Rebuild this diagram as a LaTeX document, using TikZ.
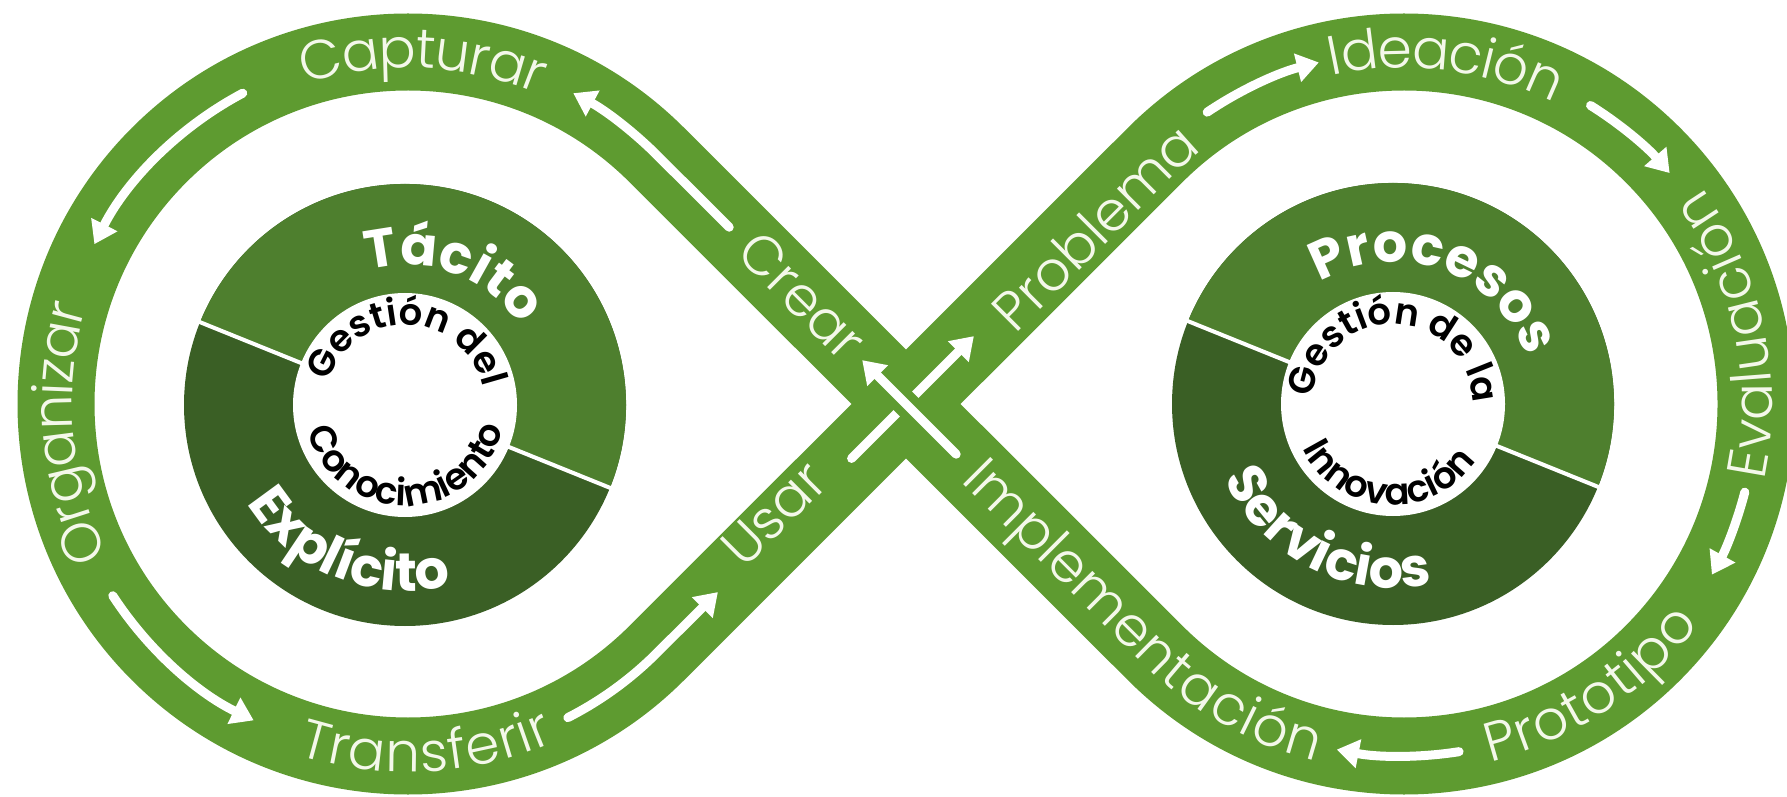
\documentclass[tikz,border=0pt]{standalone}
\usepackage{fontspec}
\setmainfont{Poppins}
\newfontfamily\poplight{Poppins Light}
\newfontfamily\popsemi{Poppins SemiBold}
\usetikzlibrary{decorations.text,arrows.meta,calc}
\definecolor{band}{HTML}{5E9B30}
\definecolor{ringup}{HTML}{4E7F2E}
\definecolor{ringlo}{HTML}{3A5F25}
\definecolor{lbl}{HTML}{F4F8EA}
\newcommand\bandlbl{\poplight\fontsize{55}{60}\selectfont\color{lbl}}
\newcommand\ringlbl{\bfseries\fontsize{54}{60}\selectfont\color{white}}
\newcommand\corelbl{\popsemi\fontsize{37}{42}\selectfont\color{black}}
\tikzset{
  bandline/.style={draw=band, line width=77pt, line join=round},
  flow/.style={draw=white, line width=9pt, line cap=round, -{Triangle[width=28pt,length=22pt]}},
  halo/.style={draw=band, line width=26pt},
  divider/.style={draw=white, line width=4pt},
  lab/.style n args={2}{decorate, decoration={text along path, text={#1}, text align=center, raise=#2}},
}
\begin{document}
\begin{tikzpicture}[x=1pt,y=1pt]
\useasboundingbox (0,0) rectangle (1787,796);
\fill[white] (0,0) rectangle (1787,796);
\clip (0,0) rectangle (1787,796);
\coordinate (C) at (906,392);
\coordinate (Lc) at (408,392);
\coordinate (Rc) at (1404,392);
\coordinate (LC) at (405,391);
\coordinate (RC) at (1393,392);

% infinity band
\draw[bandline] (C) -- ($(Lc)+(45:352)$) arc[start angle=45, end angle=315, radius=352]
  -- ($(Rc)+(135:352)$) arc[start angle=135, end angle=-135, radius=352] -- cycle;

% flow arrows
\draw[flow] ($(C)+(135:250)$) -- ($(Lc)+(45:352)$) arc[start angle=45, end angle=62, radius=352];
\draw[flow] ($(Lc)+(118:352)$) arc[start angle=118, end angle=153, radius=352];
\draw[flow] ($(Lc)+(213:352)$) arc[start angle=213, end angle=244, radius=352];
\draw[flow] ($(Lc)+(297:352)$) arc[start angle=297, end angle=315, radius=352] -- ($(C)+(225:266)$);
\draw[flow] ($(C)+(225:77)$) -- ($(C)+(45:96)$);
\draw[halo] ($(C)+(-45:71)$) -- ($(C)+(135:62)$);
\draw[flow] ($(C)+(-45:71)$) -- ($(C)+(135:62)$);
\draw[flow] ($(Rc)+(124:352)$) arc[start angle=124, end angle=104, radius=352];
\draw[flow] ($(Rc)+(58:352)$) arc[start angle=58, end angle=41, radius=352];
\draw[flow] ($(Rc)+(-14.5:352)$) arc[start angle=-14.5, end angle=-29, radius=352];
\draw[flow] ($(Rc)+(-81:352)$) arc[start angle=-81, end angle=-101, radius=352];

% band labels
\path[lab={|\bandlbl|Capturar}{-16pt}] ($(Lc)+(130:352)$) arc[start angle=130, end angle=45, radius=352];
\path[lab={|\bandlbl|Organizar}{-16pt}] ($(Lc)+(230:352)$) arc[start angle=230, end angle=140, radius=352];
\path[lab={|\bandlbl|Transferir}{-16pt}] ($(Lc)+(228:352)$) arc[start angle=228, end angle=318, radius=352];
\path[lab={|\bandlbl|Usar}{-3pt}] ($(C)+(225:291)$) -- ($(C)+(225:51)$);
\path[lab={|\bandlbl|Crear}{-16pt}] ($(C)+(135:260)$) -- ($(C)+(135:40)$);
\path[lab={|\bandlbl|Problema}{-28pt}] ($(C)+(45:88)$) -- ($(Rc)+(135:352)$) arc[start angle=135, end angle=122.5, radius=352];
\path[lab={|\bandlbl|Ideación}{-16pt}] ($(Rc)+(125:352)$) arc[start angle=125, end angle=41, radius=352];
\path[lab={|\bandlbl|Evaluación}{-16pt}] ($(Rc)+(-31:352)$) arc[start angle=-31, end angle=55, radius=352];
\path[lab={|\bandlbl|Prototipo}{-16pt}] ($(Rc)+(260:352)$) arc[start angle=260, end angle=347, radius=352];
\path[lab={|\bandlbl|Implementación}{-16pt}] ($(C)+(-45:77)$) -- ($(Rc)+(225:352)$) arc[start angle=225, end angle=259, radius=352];

% left disc
\fill[ringlo] (LC) circle[radius=221];
\fill[ringup] (LC) -- ($(LC)+(-22:221)$) arc[start angle=-22, end angle=158, radius=221] -- cycle;
\fill[white] (LC) circle[radius=112];
\draw[divider] ($(LC)+(-22:110)$) -- ($(LC)+(-22:223)$);
\draw[divider] ($(LC)+(158:110)$) -- ($(LC)+(158:223)$);
\path[lab={|\ringlbl|Tácito}{0pt}] ($(LC)+(115:140)$) arc[start angle=115, end angle=25, radius=140];
\path[lab={|\ringlbl|Explícito}{0pt}] ($(LC)+(198:186)$) arc[start angle=198, end angle=298, radius=186];
\path[lab={|\corelbl|Gestión del}{0pt}] ($(LC)+(190:80)$) arc[start angle=190, end angle=-14, radius=80];
\path[lab={|\corelbl|Conocimiento}{0pt}] ($(LC)+(176:101)$) arc[start angle=176, end angle=366, radius=101];

% right disc
\fill[ringlo] (RC) circle[radius=221];
\fill[ringup] (RC) -- ($(RC)+(-22:221)$) arc[start angle=-22, end angle=158, radius=221] -- cycle;
\fill[white] (RC) circle[radius=112];
\draw[divider] ($(RC)+(-22:110)$) -- ($(RC)+(-22:223)$);
\draw[divider] ($(RC)+(158:110)$) -- ($(RC)+(158:223)$);
\path[lab={|\ringlbl|Procesos}{0pt}] ($(RC)+(130:142)$) arc[start angle=130, end angle=10, radius=142];
\path[lab={|\ringlbl|Servicios}{0pt}] ($(RC)+(193:184)$) arc[start angle=193, end angle=293, radius=184];
\path[lab={|\corelbl|Gestión de la}{0pt}] ($(RC)+(192:80)$) arc[start angle=192, end angle=-16, radius=80];
\path[lab={|\corelbl|Innovación}{0pt}] ($(RC)+(176:101)$) arc[start angle=176, end angle=356, radius=101];
\end{tikzpicture}
\end{document}
